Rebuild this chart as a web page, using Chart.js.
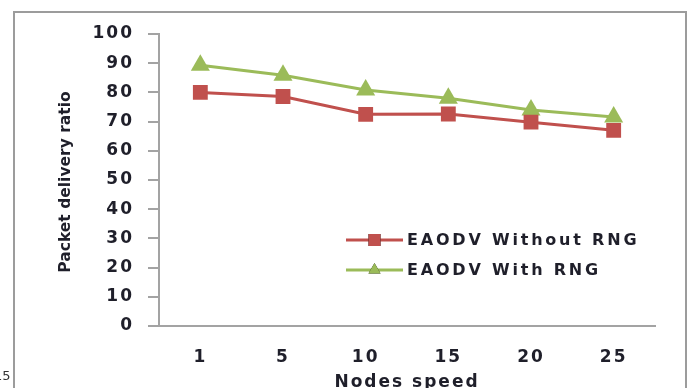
<!DOCTYPE html>
<html>
<head>
<meta charset="utf-8">
<script src="https://cdn.jsdelivr.net/npm/chart.js@4/dist/chart.umd.min.js"></script>
<style>
  html, body { margin: 0; padding: 0; background: #fff; overflow: hidden; }
  #wrap { position: relative; width: 690px; height: 388px; overflow: hidden; }
  #frame { position: absolute; left: 13px; top: 11px; width: 674px; height: 400px;
           border: 2px solid #9c9c9c; box-sizing: border-box; }
  #c { position: absolute; left: 0; top: 0; }
  .frag { position: absolute; font-family: "DejaVu Sans"; color: #333; font-size: 13px; }
</style>
</head>
<body>
<div id="wrap">
  <div id="frame"></div>
  <canvas id="c" width="690" height="388"></canvas>
  <div class="frag" style="left:-6px; top:368px;">15</div>
</div>
<script>
// Node speeds on the x axis
const speeds = ['1', '5', '10', '15', '20', '25'];
// Packet delivery ratio per speed
const withoutRng = [80, 78.6, 72.5, 72.6, 69.8, 67];
const withRng = [89.3, 85.9, 80.8, 78, 74, 71.6];
// Value axis ticks
const yTicks = [0, 10, 20, 30, 40, 50, 60, 70, 80, 90, 100];

const RED = '#C0504D';
const GREEN = '#9BBB59';
const TEXT = '#1f1f2a';
const AXIS = '#a3a3a3';

// Slightly spaced lettering for tick labels and the x title
const spacing = {
  id: 'spacing',
  beforeLayout(chart) { chart.ctx.letterSpacing = '2px'; },
  beforeDraw(chart) { chart.ctx.letterSpacing = '2px'; }
};

// Legend drawn inside the plot, plus the vertical axis title
const insideLegend = {
  id: 'insideLegend',
  afterDraw(chart) {
    const ctx = chart.ctx;
    const x0 = 346, x1 = 403, rowY = [240, 270];
    chart.data.datasets.forEach((ds, i) => {
      const y = rowY[i];
      ctx.save();
      ctx.strokeStyle = ds.borderColor;
      ctx.lineWidth = 3;
      ctx.beginPath();
      ctx.moveTo(x0, y);
      ctx.lineTo(x1, y);
      ctx.stroke();
      Chart.helpers.drawPoint(ctx, {
        pointStyle: ds.pointStyle,
        radius: ds.pointStyle === 'rect' ? 8.5 : 7,
        borderWidth: 0
      }, (x0 + x1) / 2, y);
      ctx.fillStyle = ds.pointBackgroundColor;
      ctx.fill();
      ctx.letterSpacing = '2.8px';
      ctx.font = 'bold 16px "DejaVu Sans"';
      ctx.fillStyle = TEXT;
      ctx.textBaseline = 'middle';
      ctx.textAlign = 'left';
      ctx.fillText(ds.label, 407, y + 1);
      ctx.restore();
    });

    ctx.save();
    ctx.letterSpacing = '0px';
    ctx.translate(66, 182);
    ctx.rotate(-Math.PI / 2);
    ctx.font = 'bold 15.5px "DejaVu Sans"';
    ctx.fillStyle = TEXT;
    ctx.textAlign = 'center';
    ctx.textBaseline = 'middle';
    ctx.fillText('Packet delivery ratio', 0, 0);
    ctx.restore();
  }
};

new Chart(document.getElementById('c'), {
  type: 'line',
  data: {
    labels: speeds,
    datasets: [
      {
        label: 'EAODV Without RNG',
        data: withoutRng,
        borderColor: RED,
        backgroundColor: RED,
        pointBackgroundColor: RED,
        pointBorderColor: RED,
        pointStyle: 'rect',
        pointRadius: 10.5,
        pointBorderWidth: 0,
        borderWidth: 3,
        tension: 0
      },
      {
        label: 'EAODV With RNG',
        data: withRng,
        borderColor: GREEN,
        backgroundColor: GREEN,
        pointBackgroundColor: GREEN,
        pointBorderColor: GREEN,
        pointStyle: 'triangle',
        pointRadius: 11,
        pointBorderWidth: 0,
        borderWidth: 3,
        tension: 0
      }
    ]
  },
  options: {
    responsive: false,
    animation: false,
    devicePixelRatio: 1,
    layout: { padding: { left: 14, right: 35, top: 34, bottom: 0 } },
    plugins: {
      legend: { display: false },
      tooltip: { enabled: false }
    },
    scales: {
      x: {
        offset: true,
        grid: { display: false, drawTicks: false },
        border: { display: true, color: AXIS, width: 2 },
        ticks: {
          color: TEXT,
          padding: 21,
          font: { family: 'DejaVu Sans', size: 17, weight: 'bold' }
        },
        title: {
          display: true,
          text: 'Nodes speed',
          color: TEXT,
          font: { family: 'DejaVu Sans', size: 17, weight: 'bold', lineHeight: 0.6 },
          padding: { top: 0, bottom: 0 }
        },
        afterFit(scale) { scale.height = 62; }
      },
      y: {
        min: 0,
        max: 100,
        afterBuildTicks(scale) { scale.ticks = yTicks.map(v => ({ value: v })); },
        grid: {
          display: true,
          drawOnChartArea: false,
          drawTicks: true,
          tickLength: 11,
          color: AXIS,
          lineWidth: 2
        },
        border: { display: true, color: AXIS, width: 2 },
        ticks: {
          color: TEXT,
          padding: 14,
          font: { family: 'DejaVu Sans', size: 17, weight: 'bold' }
        },
        afterFit(scale) { scale.width = 145; }
      }
    }
  },
  plugins: [spacing, insideLegend]
});
</script>
</body>
</html>
